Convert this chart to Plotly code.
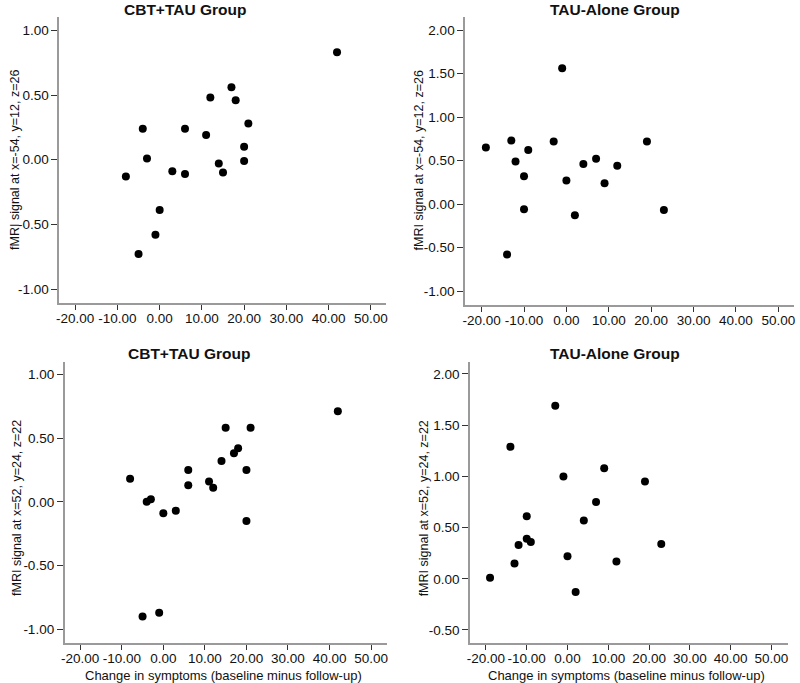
import plotly.graph_objects as go

# ---- data ----
cbt_change = [42, 17, 12, 18, 21, -4, 6, 11, 20, -3, 20, 14, -8, 3, 6, 15, 0, -1, -5]
cbt_signal_top = [0.83, 0.56, 0.48, 0.46, 0.28, 0.24, 0.24, 0.19, 0.10, 0.01, -0.01, -0.03, -0.13, -0.09, -0.11, -0.10, -0.39, -0.58, -0.73]
cbt_signal_bottom = [0.71, 0.38, 0.11, 0.42, 0.58, -0.00, 0.25, 0.16, 0.25, 0.02, -0.15, 0.32, 0.18, -0.07, 0.13, 0.58, -0.09, -0.87, -0.90]

tau_change = [-1, -19, -13, -12, -9, -10, -10, -14, -3, 0, 2, 4, 7, 9, 12, 19, 23]
tau_signal_top = [1.56, 0.65, 0.73, 0.49, 0.62, 0.32, -0.06, -0.58, 0.72, 0.27, -0.13, 0.46, 0.52, 0.24, 0.44, 0.72, -0.07]
tau_signal_bottom = [1.00, 0.01, 0.15, 0.33, 0.36, 0.61, 0.39, 1.29, 1.69, 0.22, -0.13, 0.57, 0.75, 1.08, 0.17, 0.95, 0.34]

x_ticks = [-20, -10, 0, 10, 20, 30, 40, 50]
x_ticktext = ["-20.00", "-10.00", "0.00", "10.00", "20.00", "30.00", "40.00", "50.00"]
y_ticks_cbt = [-1.0, -0.5, 0.0, 0.5, 1.0]
y_ticktext_cbt = ["-1.00", "-0.50", "0.00", "0.50", "1.00"]
y_ticks_tau_top = [-1.0, -0.5, 0.0, 0.5, 1.0, 1.5, 2.0]
y_ticktext_tau_top = ["-1.00", "-0.50", "0.00", "0.50", "1.00", "1.50", "2.00"]
y_ticks_tau_bottom = [-0.5, 0.0, 0.5, 1.0, 1.5, 2.0]
y_ticktext_tau_bottom = ["-0.50", "0.00", "0.50", "1.00", "1.50", "2.00"]

panel_titles = ["CBT+TAU Group", "TAU-Alone Group", "CBT+TAU Group", "TAU-Alone Group"]
y_titles = ["fMRI signal at x=-54, y=12, z=26", "fMRI signal at x=-54, y=12, z=26",
            "fMRI signal at x=52, y=24, z=22", "fMRI signal at x=52, y=24, z=22"]
x_title = "Change in symptoms (baseline minus follow-up)"

W, H = 800, 683
FONT = "Arial, 'Liberation Sans', Helvetica, sans-serif"


def fx(p):
    return p / W


def fy(p):
    return 1 - p / H


# panel geometry in pixels: (left, right, top, bottom), x range, y range
panels = [
    dict(box=(56.5, 385, 17, 303), xr=[-23.8, 53.5], yr=[-1.108, 1.103],
         x=cbt_change, y=cbt_signal_top, yt=(y_ticks_cbt, y_ticktext_cbt),
         title_xy=(183, 9), ytitle_xy=(12, 160)),
    dict(box=(465, 796, 17, 305), xr=[-23.9, 53.7], yr=[-1.161, 2.15],
         x=tau_change, y=tau_signal_top, yt=(y_ticks_tau_top, y_ticktext_tau_top),
         title_xy=(616, 9), ytitle_xy=(419, 160)),
    dict(box=(62, 386.7, 361.7, 643.3), xr=[-23.76, 53.9], yr=[-1.11, 1.099],
         x=cbt_change, y=cbt_signal_bottom, yt=(y_ticks_cbt, y_ticktext_cbt),
         title_xy=(187.5, 353), ytitle_xy=(14, 508), xtitle_xy=(222, 675)),
    dict(box=(470, 790, 361.7, 643.3), xr=[-23.9, 54.1], yr=[-0.63, 2.12],
         x=tau_change, y=tau_signal_bottom, yt=(y_ticks_tau_bottom, y_ticktext_tau_bottom),
         title_xy=(616, 353), ytitle_xy=(424, 508), xtitle_xy=(627, 675)),
]

fig = go.Figure()
annotations = []
layout_axes = {}

for i, p in enumerate(panels):
    n = "" if i == 0 else str(i + 1)
    fig.add_trace(go.Scatter(
        x=p["x"], y=p["y"], mode="markers",
        marker=dict(size=8, color="black", line=dict(width=0)),
        xaxis="x" + n, yaxis="y" + n, showlegend=False, hoverinfo="x+y"))
    l, r, t, b = p["box"]
    common = dict(showline=True, linecolor="#9a9a9a", linewidth=1.5, mirror=False,
                  ticks="outside", tickwidth=1.3, tickcolor="#333",
                  showgrid=False, zeroline=False,
                  tickfont=dict(family=FONT, size=13.5, color="#111"))
    layout_axes["xaxis" + n] = dict(domain=[fx(l), fx(r)], range=p["xr"], anchor="y" + n,
                                   tickvals=x_ticks, ticktext=x_ticktext, ticklen=5,
                                   ticklabelstandoff=-3, **common)
    layout_axes["yaxis" + n] = dict(domain=[fy(b), fy(t)], range=p["yr"], anchor="x" + n,
                                   tickvals=p["yt"][0], ticktext=p["yt"][1], ticklen=6, **common)
    tx, ty = p["title_xy"]
    annotations.append(dict(text="<b>%s</b>" % panel_titles[i], x=fx(tx), y=fy(ty),
                            xref="paper", yref="paper", showarrow=False,
                            xanchor="center", yanchor="middle",
                            font=dict(family=FONT, size=15.5, color="#111")))
    yx, yy = p["ytitle_xy"]
    annotations.append(dict(text=y_titles[i], x=fx(yx), y=fy(yy), textangle=-90,
                            xref="paper", yref="paper", showarrow=False,
                            xanchor="center", yanchor="middle",
                            font=dict(family=FONT, size=12.5, color="#111")))
    if "xtitle_xy" in p:
        xx, xy = p["xtitle_xy"]
        annotations.append(dict(text=x_title, x=fx(xx), y=fy(xy),
                                xref="paper", yref="paper", showarrow=False,
                                xanchor="center", yanchor="middle",
                                font=dict(family=FONT, size=13, color="#111")))

fig.update_layout(width=W, height=H, margin=dict(l=0, r=0, t=0, b=0),
                  paper_bgcolor="white", plot_bgcolor="white",
                  annotations=annotations, showlegend=False, **layout_axes)

fig.write_html("out.html", config={"displayModeBar": False},
               post_script="document.body.style.margin='0';")
